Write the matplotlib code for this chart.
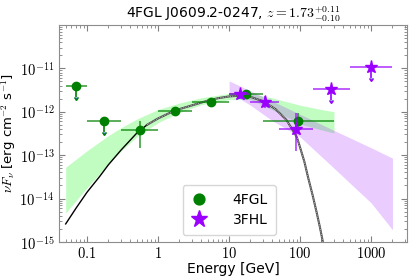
import numpy as np
import matplotlib
matplotlib.use("Agg")
import matplotlib.pyplot as plt
from matplotlib.ticker import FixedLocator, FixedFormatter, LogLocator, NullFormatter

plt.rcParams["mathtext.fontset"] = "cm"
plt.rcParams["font.family"] = "DejaVu Sans"

# 4FGL points (GeV, erg cm-2 s-1)
fgl_lo = [0.05, 0.1, 0.3, 1.0, 3.0, 10.0, 30.0]
fgl_hi = [0.1, 0.3, 1.0, 3.0, 10.0, 30.0, 300.0]
fgl_flux = [3.9e-12, 6.1e-13, 3.8e-13, 1.04e-12, 1.7e-12, 2.6e-12, 6.1e-13]
fgl_err_lo = [0, 0, 2.35e-13, 0.8e-13, 0.12e-12, 0.2e-12, 2.6e-13]
fgl_err_hi = [0, 0, 2.3e-13, 0.8e-13, 0.12e-12, 0.2e-12, 3.2e-13]
fgl_ul = [True, True, False, False, False, False, False]

# 3FHL points
fhl_lo = [10.0, 20.0, 50.0, 150.0, 500.0]
fhl_hi = [20.0, 50.0, 150.0, 500.0, 2000.0]
fhl_flux = [2.55e-12, 1.7e-12, 4.0e-13, 3.4e-12, 1.07e-11]
fhl_err_lo = [0.6e-12, 0.5e-12, 2.75e-13, 0, 0]
fhl_err_hi = [0.6e-12, 0.6e-12, 5.3e-13, 0, 0]
fhl_ul = [False, False, False, True, True]

# 4FGL log-parabola butterfly
band_g_e = [0.05, 0.1, 0.2, 0.316, 0.5, 1, 2, 4, 10, 20, 40, 100, 200, 300]
band_g_up = [-13.28, -12.90, -12.55, -12.35, -12.17, -11.95, -11.80, -11.68, -11.58, -11.58, -11.68, -11.85, -11.95, -12.0]
band_g_dn = [-14.33, -13.75, -13.20, -12.87, -12.58, -12.25, -12.02, -11.84, -11.72, -11.72, -11.95, -12.28, -12.42, -12.49]

# 3FHL power-law butterfly
band_p_e = [10, 20, 40, 100, 300, 1000, 2000]
band_p_up = [-11.29, -11.52, -11.75, -12.06, -12.43, -12.83, -13.07]
band_p_dn = [-11.55, -11.85, -12.2, -12.58, -13.3, -14.1, -14.72]

# EBL absorbed model curve
model_e = [0.05, 0.07, 0.1, 0.15, 0.2, 0.3, 0.5, 0.7, 1.0, 1.5, 2, 3, 5, 7, 10, 14, 20, 30,
           45, 64, 80, 90, 100, 115, 130, 150, 170, 190, 215]
model_f = [2.6e-15, 6e-15, 1.4e-14, 3.2e-14, 6.0e-14, 1.3e-13, 3.2e-13, 5.0e-13, 7.0e-13,
           9.6e-13, 1.15e-12, 1.4e-12, 1.8e-12, 2.05e-12, 2.25e-12, 2.35e-12, 2.2e-12, 1.75e-12,
           1.15e-12, 6.5e-13, 3.6e-13, 2.6e-13, 1.5e-13, 7e-14, 3e-14, 1.2e-14, 5e-15, 2.2e-15, 8e-16]

xtick_vals = [0.1, 1, 10, 100, 1000]
xtick_text = ["$0.1$", "$1$", "$10$", "$100$", "$1000$"]
ytick_vals = [1e-15, 1e-14, 1e-13, 1e-12, 1e-11]
ytick_text = ["$10^{-15}$", "$10^{-14}$", "$10^{-13}$", "$10^{-12}$", "$10^{-11}$"]

green = "green"
purple = "#9b00ff"

fig = plt.figure(figsize=(4.2, 2.8), dpi=100)
ax = fig.add_axes([0.140, 0.136, 0.829, 0.775])

ax.fill_between(band_g_e, 10 ** np.array(band_g_up), 10 ** np.array(band_g_dn),
                color="palegreen", alpha=0.6, lw=0)
ax.fill_between(band_p_e, 10 ** np.array(band_p_up), 10 ** np.array(band_p_dn),
                color=purple, alpha=0.2, lw=0)

me = np.array(model_e)
mf = np.array(model_f)
low = me <= 0.7
high = me >= 0.7
ax.plot(me[low], mf[low], color="k", lw=1)
ax.plot(me[high], mf[high], color="0.3", lw=1.5)
ax.plot(me[high], mf[high], color="white", lw=0.5, ls=(0, (1, 1.5)))


def draw(lo, hi, flux, elo, ehi, ul, color, marker, ms, label):
    lo = np.array(lo)
    hi = np.array(hi)
    flux = np.array(flux)
    ul = np.array(ul)
    xc = np.sqrt(lo * hi)
    xerr = [xc - lo, hi - xc]
    ax.errorbar(xc, flux, xerr=xerr, fmt="none", ecolor=color, elinewidth=1.2, alpha=0.75, capsize=0)
    det = ~ul
    ax.errorbar(xc[det], flux[det], yerr=[np.array(elo)[det], np.array(ehi)[det]], fmt="none",
                ecolor=color, elinewidth=1.2, alpha=0.75, capsize=0)
    ax.errorbar(xc[ul], flux[ul], yerr=flux[ul] * 0.44, uplims=True, fmt="none",
                ecolor=color, elinewidth=1.2, capsize=1.2)
    ax.plot(xc, flux, ls="none", marker=marker, color=color, ms=ms, label=label)


draw(fgl_lo, fgl_hi, fgl_flux, fgl_err_lo, fgl_err_hi, fgl_ul, green, "o", 6, "4FGL")
draw(fhl_lo, fhl_hi, fhl_flux, fhl_err_lo, fhl_err_hi, fhl_ul, purple, "*", 9.5, "3FHL")

ax.set_xscale("log")
ax.set_yscale("log")
ax.set_xlim(0.04, 3200)
ax.set_ylim(1e-15, 1e-10)

ax.xaxis.set_major_locator(FixedLocator(xtick_vals))
ax.xaxis.set_major_formatter(FixedFormatter(xtick_text))
ax.yaxis.set_major_locator(FixedLocator(ytick_vals))
ax.yaxis.set_major_formatter(FixedFormatter(ytick_text))
ax.xaxis.set_minor_locator(LogLocator(base=10, subs=np.arange(2, 10), numticks=20))
ax.yaxis.set_minor_locator(LogLocator(base=10, subs=np.arange(2, 10), numticks=20))
ax.xaxis.set_minor_formatter(NullFormatter())
ax.yaxis.set_minor_formatter(NullFormatter())
ax.tick_params(which="both", direction="in", top=True, right=True, color="0.5", labelsize=10.5)
ax.tick_params(which="major", length=4, pad=3)
ax.tick_params(which="minor", length=2)
for s in ax.spines.values():
    s.set_color("0.55")

ax.set_xlabel("Energy [GeV]", fontsize=10, labelpad=1)
ax.set_ylabel(r"$\nu F_\nu$ [erg cm$^{-2}$ s$^{-1}$]", fontsize=9.5, labelpad=1)
ax.set_title(r"4FGL J0609.2-0247, $z = 1.73^{+0.11}_{-0.10}$", fontsize=10, pad=5)

ax.legend(loc="lower center", bbox_to_anchor=(0.49, 0.0), fontsize=10, markerscale=1.3,
          handletextpad=1.8, borderpad=0.6, labelspacing=0.4, handlelength=1.2, framealpha=0.8)

fig.savefig("out.png", dpi=100)
